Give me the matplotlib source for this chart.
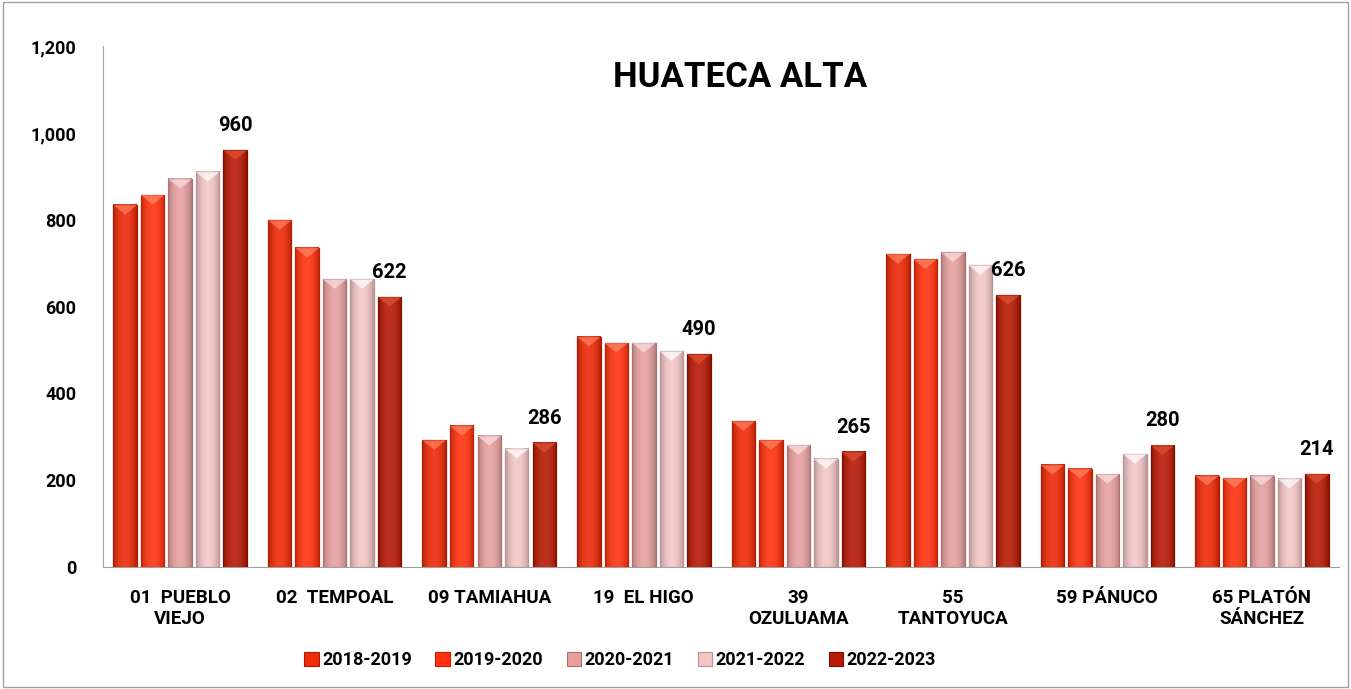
import numpy as np
import matplotlib
matplotlib.use("Agg")
import matplotlib.pyplot as plt
from matplotlib.patches import Rectangle, Polygon
from matplotlib.colors import to_rgb

plt.rcParams['font.family'] = ['Roboto', 'DejaVu Sans']
plt.rcParams['font.weight'] = 'bold'

municipios = ["01  PUEBLO\nVIEJO", "02  TEMPOAL", "09 TAMIAHUA", "19  EL HIGO",
              "39\nOZULUAMA", "55\nTANTOYUCA", "59 PÁNUCO", "65 PLATÓN\nSÁNCHEZ"]
ciclos = ["2018-2019", "2019-2020", "2020-2021", "2021-2022", "2022-2023"]

v_2018 = [834, 799, 292, 530, 336, 721, 235, 210]
v_2019 = [857, 735, 325, 516, 292, 709, 226, 205]
v_2020 = [894, 663, 302, 516, 281, 725, 214, 210]
v_2021 = [910, 663, 272, 497, 249, 695, 260, 203]
v_2022 = [960, 622, 286, 490, 265, 626, 280, 214]
series = [v_2018, v_2019, v_2020, v_2021, v_2022]

colores = ["#EE2A08", "#FF3210", "#E6A0A0", "#F3C6C6", "#B81A06"]
bordes = ["#B01A00", "#C02000", "#B07070", "#C09090", "#7A0E00"]
brillo = ["#FF8060", "#FF8866", "#FBE0E0", "#FFFFFF", "#E05030"]


def degradado(color, n=40):
    # darker at the edges, a bit lighter in the middle
    base = np.array(to_rgb(color))
    t = np.linspace(-1, 1, n)
    f = 1 - np.abs(t) ** 2
    fila = base * (0.78 + 0.22 * f)[:, None]
    fila = fila + (1 - fila) * (0.10 * f)[:, None]
    return np.clip(fila[None, :, :], 0, 1)


fig = plt.figure(figsize=(13.51, 6.89), dpi=100)
ax = fig.add_axes([0.0762, 0.177, 0.915, 0.756])

x = np.arange(len(municipios))
slot = 0.178
ancho = 0.152
for i, (vals, c) in enumerate(zip(series, colores)):
    pos = x + (i - 2) * slot
    bars = ax.bar(pos, vals, width=ancho, color=c, edgecolor=bordes[i],
                  linewidth=0.8, label=ciclos[i], zorder=2)
    img = degradado(c)
    for b in bars:
        x0 = b.get_x()
        w = b.get_width()
        h = b.get_height()
        ax.imshow(img, extent=(x0, x0 + w, 0, h), aspect='auto',
                  interpolation='bilinear', zorder=2.5)
        ax.add_patch(Rectangle((x0, 0), w, h, fill=False,
                               edgecolor=bordes[i], linewidth=0.8, zorder=2.6))
        # little bevel on top of each bar
        tri = Polygon([[x0, h], [x0 + w, h], [x0 + w / 2, h - 22]],
                      closed=True, facecolor=brillo[i], edgecolor='none',
                      alpha=0.7, zorder=3)
        ax.add_patch(tri)
    if i == 4:
        for px, v in zip(pos, vals):
            ax.text(px, v + 35, f"{v}", ha='center', va='bottom',
                    fontsize=14.5, fontweight='bold')

ax.set_xlim(-0.5, len(municipios) - 0.5)
ax.set_ylim(0, 1200)
ax.set_yticks(np.arange(0, 1201, 200))
ax.set_yticklabels([f"{t:,}" for t in range(0, 1201, 200)], fontsize=13,
                   fontweight='bold')
ax.set_xticks(x)
ax.set_xticklabels(municipios, fontsize=13.5, fontweight='bold',
                   linespacing=1.2, va='top')
ax.tick_params(axis='x', length=0, pad=16)
ax.tick_params(axis='y', length=0, pad=19)

for s in ['top', 'right']:
    ax.spines[s].set_visible(False)
ax.spines['left'].set_color('#A0A0A0')
ax.spines['bottom'].set_color('#A0A0A0')

ax.text(0.515, 0.939, "HUATECA ALTA", transform=ax.transAxes, ha='center',
        va='center', fontsize=25, fontweight='bold')

leg = fig.legend(loc='center', bbox_to_anchor=(0.459, 0.042), ncol=5,
                 frameon=False, fontsize=13, handlelength=0.8,
                 handleheight=0.8, columnspacing=1.3, handletextpad=0.2)
for t in leg.get_texts():
    t.set_fontweight('bold')

fig.patches.append(Rectangle((0.002, 0.003), 0.996, 0.994,
                             transform=fig.transFigure, fill=False,
                             edgecolor='#A0A0A0', linewidth=1))

fig.savefig("out.png", dpi=100)
